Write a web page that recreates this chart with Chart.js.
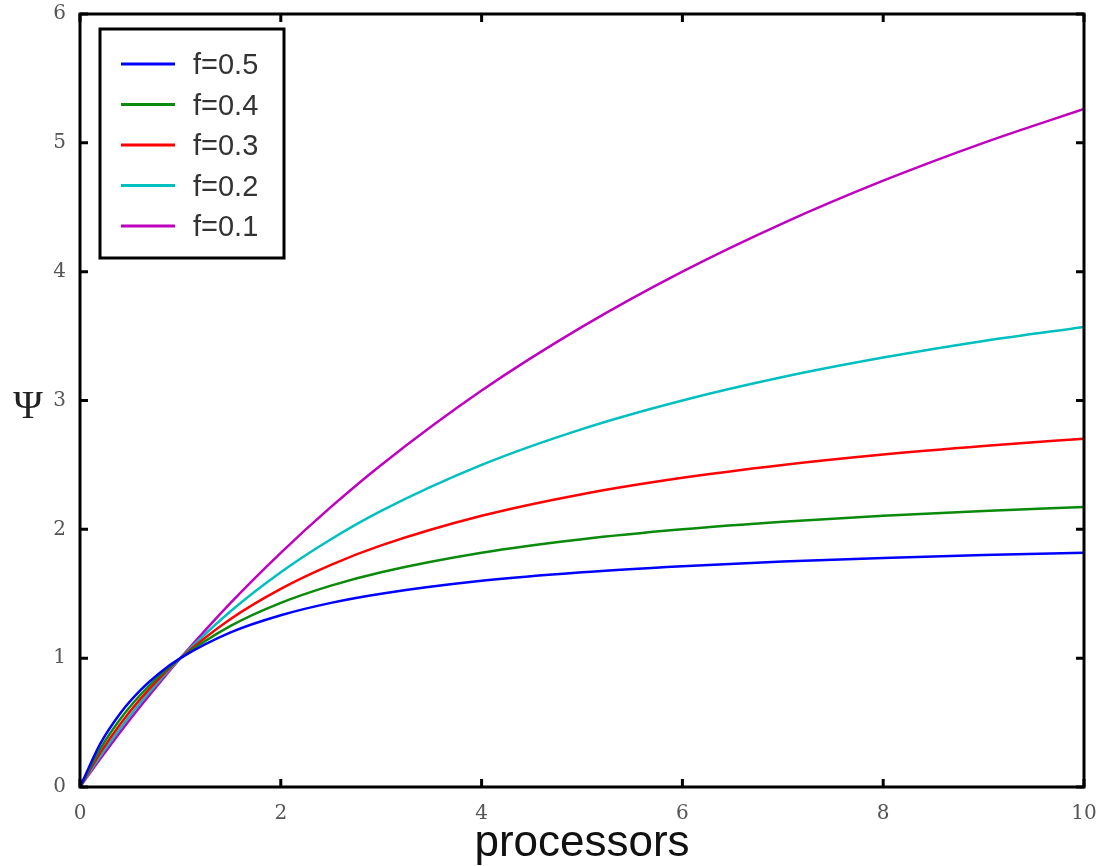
<!DOCTYPE html>
<html>
<head>
<meta charset="utf-8">
<script src="https://cdn.jsdelivr.net/npm/chart.js@4/dist/chart.umd.min.js"></script>
<style>
  html, body { margin: 0; padding: 0; background: #fff; }
  #wrap { width: 1097px; height: 866px; }
</style>
</head>
<body>
<div id="wrap"><canvas id="speedup" width="1097" height="866"></canvas></div>
<script>
(function () {

  // processors (x) and the speedup values
  const processors = [0, 0.2, 0.4, 0.6, 0.8, 1, 1.5, 2, 2.5, 3, 4, 5, 6, 7, 8, 9, 10];
  const f05 = [0, 0.333, 0.571, 0.75, 0.889, 1, 1.2, 1.333, 1.429, 1.5, 1.6, 1.667, 1.714, 1.75, 1.778, 1.8, 1.818];
  const f04 = [0, 0.294, 0.526, 0.714, 0.87, 1, 1.25, 1.429, 1.563, 1.667, 1.818, 1.923, 2.0, 2.059, 2.105, 2.143, 2.174];
  const f03 = [0, 0.263, 0.488, 0.682, 0.851, 1, 1.304, 1.538, 1.724, 1.875, 2.105, 2.273, 2.4, 2.5, 2.581, 2.647, 2.703];
  const f02 = [0, 0.238, 0.455, 0.652, 0.833, 1, 1.364, 1.667, 1.923, 2.143, 2.5, 2.778, 3.0, 3.182, 3.333, 3.462, 3.571];
  const f01 = [0, 0.217, 0.426, 0.625, 0.816, 1, 1.429, 1.818, 2.174, 2.5, 3.077, 3.571, 4.0, 4.375, 4.706, 5.0, 5.263];

  const seriesLabels = ["f=0.5", "f=0.4", "f=0.3", "f=0.2", "f=0.1"];
  const seriesValues = [f05, f04, f03, f02, f01];
  const seriesColors = ["#0000ff", "#0a8a0a", "#ff0000", "#00bfbf", "#bf00bf"];

  const xTicks = [0, 2, 4, 6, 8, 10];
  const yTicks = [0, 1, 2, 3, 4, 5, 6];

  function toPoints(values) {
    return values.map((v, i) => ({ x: processors[i], y: v }));
  }

  const datasets = seriesValues.map((values, i) => ({
    label: seriesLabels[i],
    data: toPoints(values),
    borderColor: seriesColors[i],
    borderWidth: 2.5,
    pointRadius: 0,
    fill: false,
    cubicInterpolationMode: "monotone"
  }));

  // frame with inward ticks on all four sides
  const framePlugin = {
    id: "frame",
    afterDatasetsDraw(chart) {
      const ctx = chart.ctx;
      const area = chart.chartArea;
      const xs = chart.scales.x;
      const ys = chart.scales.y;
      const len = 8;
      ctx.save();
      ctx.strokeStyle = "#000";
      ctx.lineWidth = 3;
      ctx.beginPath();
      xTicks.forEach(v => {
        const px = xs.getPixelForValue(v);
        ctx.moveTo(px, area.bottom);
        ctx.lineTo(px, area.bottom - len);
        ctx.moveTo(px, area.top);
        ctx.lineTo(px, area.top + len);
      });
      yTicks.forEach(v => {
        const py = ys.getPixelForValue(v);
        ctx.moveTo(area.left, py);
        ctx.lineTo(area.left + len, py);
        ctx.moveTo(area.right, py);
        ctx.lineTo(area.right - len, py);
      });
      ctx.stroke();
      ctx.strokeRect(area.left, area.top, area.right - area.left, area.bottom - area.top);
      ctx.restore();
    }
  };

  // boxed legend in the upper left of the plot
  const legendPlugin = {
    id: "boxLegend",
    afterDraw(chart) {
      const ctx = chart.ctx;
      const area = chart.chartArea;
      const left = area.left + 20;
      const top = area.top + 15;
      const rowH = 40.5;
      ctx.save();
      ctx.strokeStyle = "#000";
      ctx.lineWidth = 3;
      ctx.strokeRect(left, top, 184, 229);
      ctx.font = "29px 'Liberation Sans', Arial, sans-serif";
      ctx.textBaseline = "middle";
      ctx.fillStyle = "#333";
      chart.data.datasets.forEach((ds, i) => {
        const y = top + 35 + i * rowH;
        ctx.strokeStyle = ds.borderColor;
        ctx.lineWidth = 3;
        ctx.beginPath();
        ctx.moveTo(left + 21, y);
        ctx.lineTo(left + 75, y);
        ctx.stroke();
        ctx.fillText(ds.label, left + 93, y + 2);
      });
      // y axis symbol, upright
      ctx.font = "40px 'Liberation Serif', 'DejaVu Serif', serif";
      ctx.fillStyle = "#222";
      ctx.textAlign = "center";
      ctx.fillText("\u03A8", 28, (area.top + area.bottom) / 2 + 7);
      ctx.restore();
    }
  };

  const tickFont = { family: "'DejaVu Serif', 'Liberation Serif', serif", size: 20 };

  new Chart(document.getElementById("speedup"), {
    type: "line",
    data: { datasets: datasets },
    options: {
      responsive: false,
      animation: false,
      layout: { padding: { top: 14, right: 13, left: 0, bottom: 0 } },
      plugins: {
        legend: { display: false },
        tooltip: { enabled: false }
      },
      scales: {
        x: {
          type: "linear",
          min: 0,
          max: 10,
          afterFit: scale => {
            scale.height = 79;
            scale.paddingLeft = 0;
            scale.paddingRight = 0;
          },
          afterBuildTicks: scale => { scale.ticks = xTicks.map(v => ({ value: v })); },
          grid: { display: false, drawTicks: false },
          border: { display: false },
          ticks: { font: tickFont, color: "#555", padding: 15, maxRotation: 0 },
          title: {
            display: true,
            text: "processors",
            font: { family: "'Liberation Sans', Arial, sans-serif", size: 44 },
            color: "#111",
            padding: { top: 0, bottom: -4 }
          }
        },
        y: {
          type: "linear",
          min: 0,
          max: 6,
          afterFit: scale => {
            scale.width = 80;
            scale.paddingTop = 0;
            scale.paddingBottom = 0;
          },
          afterBuildTicks: scale => { scale.ticks = yTicks.map(v => ({ value: v })); },
          grid: { display: false, drawTicks: false },
          border: { display: false },
          ticks: { font: tickFont, color: "#555", padding: 14 }
        }
      }
    },
    plugins: [framePlugin, legendPlugin]
  });

})();
</script>
</body>
</html>
